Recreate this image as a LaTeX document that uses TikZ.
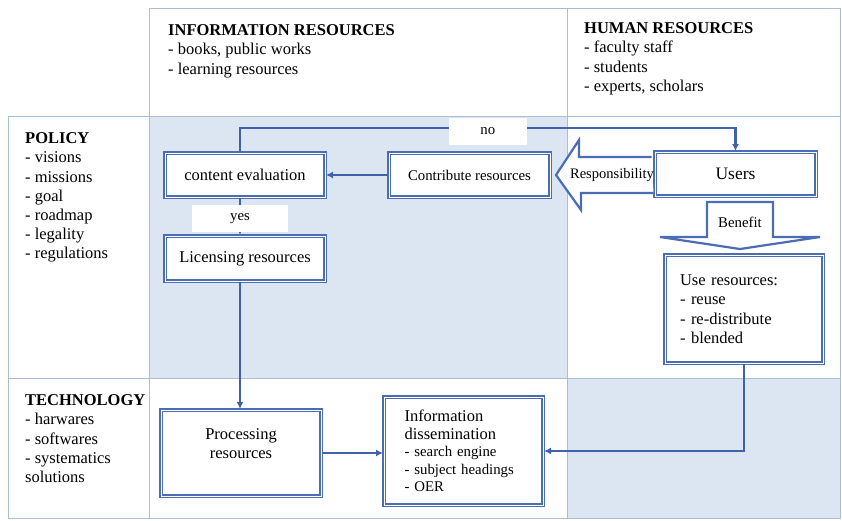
\documentclass[tikz,border=0pt]{standalone}
\usepackage{fontspec}
\setmainfont{Liberation Serif}
\usetikzlibrary{arrows.meta,calc}
\definecolor{boxblue}{HTML}{4A6DB4}
\definecolor{lineblue}{HTML}{3F62A8}
\definecolor{gridblue}{HTML}{A8BFDA}
\definecolor{cellblue}{HTML}{DCE6F2}

\begin{document}
\begin{tikzpicture}[
    x=1pt, y=1pt,
    procbox/.style={rectangle, draw=boxblue, line width=2pt, double=white, double distance=0.9pt, fill=white, font=\fontsize{16.5}{19}\selectfont},
    listtext/.style={anchor=north west, inner sep=0pt, align=left, font=\fontsize{16.5}{19.2}\selectfont},
    answer/.style={fill=white, minimum height=27, font=\fontsize{14.8}{17}\selectfont},
    flowline/.style={draw=lineblue, line width=2.2pt, -{Latex[length=7pt,width=7pt]}},
    bigarrow/.style={draw=boxblue, line width=2.2pt, fill=white, line join=miter},
    tableline/.style={draw=gridblue, line width=0.8pt}
]
    \useasboundingbox (0,0) rectangle (842,-520);

    % shaded cells
    \fill[cellblue] (149,-116) rectangle (567,-378);
    \fill[cellblue] (567,-378) rectangle (840,-518);

    % table lines
    \draw[tableline] (149,-8) rectangle (840,-518);
    \draw[tableline] (8,-116) rectangle (840,-518);
    \draw[tableline] (567,-8) -- (567,-518);
    \draw[tableline] (8,-378) -- (840,-378);

    % row and column headings
    \node[listtext] (infohead) at (168,-24.5) {\textbf{INFORMATION RESOURCES}\\- books, public works\\- learning resources};
    \node[listtext] (humanhead) at (584,-22.5) {\textbf{HUMAN RESOURCES}\\- faculty staff\\- students\\- experts, scholars};
    \node[listtext] (policyhead) at (25,-132.5) {\textbf{POLICY}\\- visions\\- missions\\- goal\\- roadmap\\- legality\\- regulations};
    \node[listtext] (techhead) at (25,-394.5) {\textbf{TECHNOLOGY}\\- harwares\\- softwares\\- systematics\\solutions};

    % process boxes
    \node[procbox, minimum width=160, minimum height=44] (eval) at (245,-175) {content evaluation};
    \node[procbox, minimum width=161, minimum height=44, font=\fontsize{14.8}{17}\selectfont] (contrib) at (469.5,-175) {Contribute resources};
    \node[procbox, minimum width=161, minimum height=44, font=\fontsize{17.5}{20}\selectfont] (users) at (735.5,-174) {Users};
    \node[procbox, minimum width=160, minimum height=45] (licence) at (245,-258.5) {Licensing resources};
    \node[procbox, minimum width=158, minimum height=108, text width=128, align=left, font=\fontsize{16.5}{19.5}\selectfont] (use) at (744,-309) {Use resources:\\- reuse\\- re-distribute\\- blended\\[4pt]};
    \node[procbox, minimum width=160, minimum height=86, align=center] (proc) at (241,-453) {Processing\\resources\\\mbox{}};
    \node[procbox, minimum width=159, minimum height=108, text width=118, align=left, font=\fontsize{14.8}{17.5}\selectfont] (dissem) at (463.5,-451) {{\fontsize{16.5}{19}\selectfont Information}\\{\fontsize{16.5}{19}\selectfont dissemination}\\- search engine\\- subject headings\\- OER};

    % flow connectors
    \draw[flowline] (contrib) -- (eval);
    \draw[flowline] ([xshift=-5]eval.north) -- ++(0,24) -| node[answer, pos=0.25, minimum width=78, yshift=-3] {no} (users.north);
    \draw[flowline] ([xshift=-5]eval.south) -- node[answer, minimum width=96, yshift=-2] {yes} ([xshift=-5]licence.north);
    \draw[flowline] ([xshift=-5]licence.south) -- ([xshift=-5]licence.south |- proc.north);
    \draw[flowline] (proc.east) -- (proc.east -| dissem.west);
    \draw[flowline] (use.south) |- (dissem.east);

    % block arrows
    \draw[bigarrow] ([xshift=-2.5,yshift=17]users.west) -- ++(-72.5,0) -- ++(0,17) -- ([xshift=5]contrib.east) -- ++(25,-35) -- ++(0,17) -- ++(72.5,0);
    \node[font=\fontsize{14.5}{17}\selectfont] (resp) at (612,-175) {Responsibility};

    \coordinate (benefittop) at ([xshift=4.5,yshift=-5]users.south);
    \draw[bigarrow] ([xshift=-33]benefittop) -- ++(0,-35) -- ++(-47,0) -- ++(80,-12) -- ++(80,12) -- ++(-47,0) -- ++(0,35) -- cycle;
    \node[font=\fontsize{14.8}{17}\selectfont] (benefit) at (740,-222) {Benefit};
\end{tikzpicture}
\end{document}
